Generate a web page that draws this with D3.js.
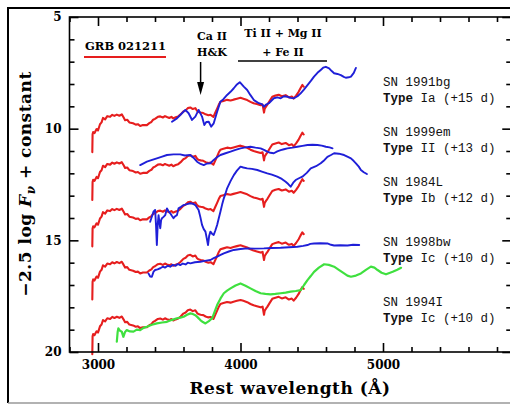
<!DOCTYPE html>
<html>
<head>
<meta charset="utf-8">
<script src="https://cdn.jsdelivr.net/npm/d3@7"></script>
<style>
  body { margin: 0; background: #fff; }
  svg { display: block; }
  .serif { font-family: "DejaVu Serif", "Liberation Serif", serif; font-weight: bold; }
  .mono { font-family: "Liberation Mono", "DejaVu Sans Mono", monospace; }
</style>
</head>
<body>
<svg id="chart" width="510" height="404"></svg>
<script>
// ---- data ----------------------------------------------------------------
// Tick values
const xMajorTicks = [3000, 4000, 5000];
const yMajorTicks = [5, 10, 15, 20];

// GRB 021211 rest-frame spectrum, [wavelength (Å), -2.5 log Fν] (top copy)
const grbSpectrum = [
  [2960, 11.05], [2962, 10.25], [2966, 10.15], [2975, 10.2], [2990, 10.02], [3000, 10.08],
  [3014, 9.8], [3025, 9.72], [3035, 9.52], [3050, 9.58], [3065, 9.44], [3085, 9.47],
  [3100, 9.38], [3115, 9.43], [3132, 9.37], [3150, 9.42], [3167, 9.36], [3180, 9.5],
  [3190, 9.62], [3205, 9.6], [3220, 9.72], [3246, 9.76], [3265, 9.82], [3280, 9.8],
  [3296, 9.88], [3315, 9.84], [3343, 9.84], [3360, 9.75], [3375, 9.7], [3387, 9.6],
  [3400, 9.56], [3420, 9.47], [3437, 9.45], [3455, 9.5], [3470, 9.44], [3484, 9.48],
  [3500, 9.52], [3515, 9.47], [3528, 9.54], [3545, 9.49], [3563, 9.45], [3580, 9.36],
  [3599, 9.23], [3615, 9.18], [3630, 9.08], [3648, 9.05], [3665, 9.12], [3683, 9.08],
  [3695, 9.2], [3704, 9.25], [3720, 9.28], [3739, 9.3], [3755, 9.36], [3775, 9.4],
  [3790, 9.38], [3810, 9.47], [3822, 9.3], [3836, 9.1], [3848, 8.92], [3859, 8.8],
  [3880, 8.76], [3906, 8.71], [3930, 8.74], [3951, 8.7], [3975, 8.66], [4000, 8.62],
  [4020, 8.66], [4047, 8.72], [4070, 8.8], [4092, 8.86], [4115, 8.9], [4141, 8.95],
  [4155, 8.92], [4165, 9.28], [4170, 9.1], [4180, 9.0], [4188, 8.93], [4205, 8.75],
  [4223, 8.57], [4245, 8.52], [4268, 8.48], [4290, 8.55], [4317, 8.5], [4340, 8.6],
  [4360, 8.56], [4373, 8.65], [4390, 8.52], [4408, 8.35], [4420, 8.2], [4434, 8.04],
  [4440, 8.1], [4444, 8.12]
];

// Vertical constant added to the GRB spectrum for each comparison
const grbOffsets = [0, 2.14, 4.22, 6.6, 9.05];

// Comparison supernovae
const snNames = ["SN 1991bg", "SN 1999em", "SN 1984L", "SN 1998bw", "SN 1994I"];
const snTypes = ["Ia (+15 d)", "II (+13 d)", "Ib (+12 d)", "Ic (+10 d)", "Ic (+10 d)"];

const sn1991bg = [
  [3519, 9.69], [3554, 9.54], [3589, 9.31], [3613, 9.16], [3636, 9.31], [3660, 9.61],
  [3683, 9.46], [3706, 9.16], [3730, 9.46], [3746, 9.84], [3760, 9.7], [3777, 9.69],
  [3794, 9.91], [3812, 9.76], [3836, 9.24], [3859, 8.79], [3880, 8.68], [3906, 8.49],
  [3930, 8.35], [3953, 8.19], [3975, 8.02], [3995, 7.92], [4023, 8.12], [4047, 8.27],
  [4070, 8.5], [4094, 8.72], [4129, 8.86], [4150, 8.9], [4164, 9.02], [4180, 8.92],
  [4199, 8.86], [4234, 8.64], [4260, 8.6], [4282, 8.64], [4305, 8.55], [4329, 8.57],
  [4350, 8.62], [4375, 8.64], [4400, 8.55], [4422, 8.42], [4445, 8.25], [4470, 8.05],
  [4495, 7.85], [4516, 7.67], [4540, 7.5], [4563, 7.37], [4580, 7.27], [4599, 7.23],
  [4622, 7.3], [4640, 7.42], [4657, 7.52], [4680, 7.55], [4704, 7.6], [4725, 7.68],
  [4739, 7.72], [4760, 7.7], [4775, 7.67], [4795, 7.5], [4810, 7.28]
];

const sn1999em = [
  [3296, 11.63], [3320, 11.55], [3343, 11.48], [3380, 11.4], [3413, 11.33], [3450, 11.25],
  [3484, 11.18], [3530, 11.15], [3577, 11.15], [3610, 11.2], [3648, 11.18], [3670, 11.3],
  [3695, 11.48], [3720, 11.58], [3742, 11.63], [3765, 11.56], [3789, 11.55], [3812, 11.4],
  [3835, 11.28], [3859, 11.18], [3895, 11.1], [3930, 11.03], [3965, 10.95], [4000, 10.88],
  [4035, 10.84], [4070, 10.81], [4105, 10.85], [4141, 10.88], [4165, 10.95], [4188, 11.03],
  [4210, 11.08], [4234, 11.1], [4258, 11.02], [4282, 10.96], [4305, 10.92], [4329, 10.88],
  [4365, 10.85], [4399, 10.81], [4435, 10.77], [4470, 10.73], [4505, 10.72], [4540, 10.73],
  [4570, 10.76], [4599, 10.81], [4625, 10.84], [4646, 10.88]
];

const sn1984L = [
  [3366, 14.17], [3380, 13.9], [3389, 13.72], [3401, 13.64], [3407, 14.3], [3413, 15.21],
  [3419, 14.3], [3425, 13.87], [3431, 14.2], [3437, 14.46], [3443, 14.1], [3449, 14.01],
  [3460, 13.95], [3472, 13.87], [3484, 13.57], [3495, 13.7], [3507, 13.79], [3518, 13.9],
  [3530, 14.01], [3542, 13.92], [3554, 13.87], [3565, 13.57], [3583, 13.5], [3601, 13.42],
  [3625, 13.38], [3648, 13.34], [3665, 13.36], [3683, 13.42], [3706, 13.64], [3718, 13.95],
  [3730, 14.31], [3742, 14.5], [3754, 14.61], [3763, 14.9], [3772, 15.21], [3780, 14.8],
  [3789, 14.61], [3800, 14.7], [3812, 14.76], [3824, 14.55], [3836, 14.31], [3848, 14.0],
  [3859, 13.72], [3871, 13.4], [3883, 13.12], [3895, 12.9], [3906, 12.67], [3930, 12.35],
  [3953, 12.08], [3975, 11.88], [4000, 11.7], [4020, 11.74], [4047, 11.78], [4080, 11.8],
  [4118, 11.85], [4150, 11.92], [4188, 12.0], [4220, 12.06], [4258, 12.15], [4290, 12.25],
  [4317, 12.38], [4335, 12.48], [4352, 12.6], [4370, 12.42], [4387, 12.3], [4410, 12.22],
  [4434, 12.15], [4465, 11.98], [4493, 11.78], [4530, 11.68], [4563, 11.55], [4590, 11.4],
  [4610, 11.26], [4635, 11.18], [4657, 11.1], [4690, 11.12], [4727, 11.18], [4750, 11.25],
  [4775, 11.33], [4795, 11.45], [4810, 11.55], [4830, 11.7], [4845, 11.85], [4865, 11.95],
  [4887, 12.03]
];

const sn1998bw = [
  [3354, 16.48], [3366, 16.62], [3378, 16.63], [3390, 16.4], [3401, 16.33], [3418, 16.3],
  [3437, 16.25], [3455, 16.18], [3470, 16.22], [3490, 16.14], [3507, 16.18], [3525, 16.1],
  [3545, 16.14], [3560, 16.06], [3577, 16.11], [3595, 16.04], [3615, 16.08], [3630, 16.0],
  [3648, 16.03], [3680, 15.98], [3718, 15.96], [3750, 15.92], [3789, 15.88], [3812, 15.8],
  [3836, 15.73], [3860, 15.65], [3883, 15.58], [3918, 15.5], [3953, 15.43], [4000, 15.39],
  [4047, 15.36], [4100, 15.37], [4164, 15.36], [4220, 15.34], [4282, 15.33], [4340, 15.31],
  [4399, 15.29], [4440, 15.25], [4470, 15.21], [4490, 15.16], [4516, 15.14], [4560, 15.13],
  [4610, 15.14], [4635, 15.2], [4657, 15.23], [4700, 15.22], [4751, 15.23], [4790, 15.2],
  [4833, 15.21]
];

const sn1994I = [
  [3132, 19.54], [3138, 19.1], [3143, 18.94], [3155, 19.05], [3167, 19.09], [3172, 19.2],
  [3178, 19.32], [3190, 19.1], [3202, 19.02], [3225, 19.08], [3249, 19.09], [3272, 19.0],
  [3296, 19.02], [3320, 18.92], [3343, 18.87], [3378, 18.78], [3413, 18.72], [3450, 18.68],
  [3484, 18.65], [3520, 18.56], [3554, 18.49], [3578, 18.46], [3601, 18.42], [3625, 18.33],
  [3648, 18.27], [3665, 18.3], [3683, 18.35], [3700, 18.45], [3718, 18.57], [3736, 18.66],
  [3754, 18.72], [3778, 18.62], [3801, 18.49], [3818, 18.2], [3836, 17.9], [3860, 17.6],
  [3883, 17.37], [3906, 17.25], [3930, 17.15], [3965, 17.02], [4000, 16.93], [4035, 17.03],
  [4070, 17.15], [4105, 17.27], [4141, 17.37], [4175, 17.4], [4211, 17.42], [4245, 17.4],
  [4282, 17.37], [4317, 17.34], [4352, 17.3], [4388, 17.27], [4423, 17.23], [4446, 17.0],
  [4470, 16.78], [4493, 16.6], [4516, 16.41], [4550, 16.22], [4587, 16.07], [4620, 16.1],
  [4657, 16.18], [4690, 16.32], [4727, 16.48], [4750, 16.58], [4775, 16.63], [4810, 16.58],
  [4845, 16.48], [4880, 16.32], [4915, 16.18], [4940, 16.22], [4962, 16.33], [4990, 16.45],
  [5021, 16.52], [5045, 16.46], [5068, 16.41], [5100, 16.32], [5127, 16.23]
];

const snSpectra = [sn1991bg, sn1999em, sn1984L, sn1998bw, sn1994I];
const snColors = ["#1f1fd8", "#1f1fd8", "#1f1fd8", "#1f1fd8", "#3fe03f"];

// ---- layout --------------------------------------------------------------
const svg = d3.select("#chart");
const plot = { left: 69.5, right: 511.25, top: 17, bottom: 352 };

const x = d3.scaleLinear().domain([2800, 5900]).range([plot.left, plot.right]);
const y = d3.scaleLinear().domain([5, 20]).range([plot.top, plot.bottom]);

// outer frame: dark top and left edges, light bottom edge
svg.append("path").attr("d", "M8,403 L8,8 L512,8")
  .attr("fill", "none").attr("stroke", "#000").attr("stroke-width", 2);
svg.append("line").attr("x1", 8).attr("x2", 510).attr("y1", 403).attr("y2", 403)
  .attr("stroke", "#999").attr("stroke-width", 1.5);

// spectra: GRB copies first, comparison spectra over them
const line = d3.line().x(d => x(d[0])).y(d => y(d[1]));
const curves = svg.append("g").attr("fill", "none")
  .attr("stroke-linejoin", "round").attr("stroke-linecap", "round");

grbOffsets.forEach(off => {
  curves.append("path").attr("d", line(grbSpectrum.map(d => [d[0], d[1] + off])))
    .attr("stroke", "#e61e1e").attr("stroke-width", 2.1);
});
snSpectra.forEach((spec, i) => {
  curves.append("path").attr("d", line(spec))
    .attr("stroke", snColors[i]).attr("stroke-width", i === 4 ? 2.2 : 1.9);
});

// axes: major + minor ticks on all four sides
const minorX = d3.range(2800, 5901, 200).filter(v => !xMajorTicks.includes(v));
const minorY = d3.range(5, 21, 1).filter(v => !yMajorTicks.includes(v));

function styleAxis(g) {
  g.select(".domain").remove();
  g.selectAll(".tick line").attr("stroke", "#000").attr("stroke-width", 1.6);
  g.selectAll(".tick text").attr("class", "serif").attr("fill", "#000")
    .style("font-size", "12px");
}

svg.append("g").attr("transform", `translate(0,${plot.bottom})`)
  .call(d3.axisBottom(x).tickValues(xMajorTicks).tickSizeInner(-9).tickSizeOuter(0)
    .tickPadding(8).tickFormat(d3.format("d"))).call(styleAxis);
svg.append("g").attr("transform", `translate(0,${plot.bottom})`)
  .call(d3.axisBottom(x).tickValues(minorX).tickSizeInner(-5).tickSizeOuter(0)
    .tickFormat("")).call(styleAxis);
svg.append("g").attr("transform", `translate(0,${plot.top})`)
  .call(d3.axisTop(x).tickValues(xMajorTicks).tickSizeInner(-9).tickSizeOuter(0)
    .tickFormat("")).call(styleAxis);
svg.append("g").attr("transform", `translate(0,${plot.top})`)
  .call(d3.axisTop(x).tickValues(minorX).tickSizeInner(-5).tickSizeOuter(0)
    .tickFormat("")).call(styleAxis);

svg.append("g").attr("transform", `translate(${plot.left},0)`)
  .call(d3.axisLeft(y).tickValues(yMajorTicks).tickSizeInner(-9).tickSizeOuter(0)
    .tickPadding(8)).call(styleAxis);
svg.append("g").attr("transform", `translate(${plot.left},0)`)
  .call(d3.axisLeft(y).tickValues(minorY).tickSizeInner(-5).tickSizeOuter(0)
    .tickFormat("")).call(styleAxis);
svg.append("g").attr("transform", `translate(${plot.right},0)`)
  .call(d3.axisRight(y).tickValues(yMajorTicks).tickSizeInner(-9).tickSizeOuter(0)
    .tickFormat("")).call(styleAxis);
svg.append("g").attr("transform", `translate(${plot.right},0)`)
  .call(d3.axisRight(y).tickValues(minorY).tickSizeInner(-5).tickSizeOuter(0)
    .tickFormat("")).call(styleAxis);

// plot box
svg.append("rect").attr("x", plot.left).attr("y", plot.top)
  .attr("width", plot.right - plot.left).attr("height", plot.bottom - plot.top)
  .attr("fill", "none").attr("stroke", "#000").attr("stroke-width", 1.6);

// axis titles
svg.append("text").attr("class", "serif").attr("x", 290).attr("y", 394)
  .attr("text-anchor", "middle").style("font-size", "17px").style("letter-spacing", "0.5px")
  .text("Rest wavelength (Å)");

const yTitle = svg.append("text").attr("class", "serif")
  .attr("transform", "translate(31,184) rotate(-90)")
  .attr("text-anchor", "middle").style("font-size", "17px").style("letter-spacing", "0.5px");
yTitle.append("tspan").text("−2.5 log ");
yTitle.append("tspan").style("font-style", "italic").text("F");
yTitle.append("tspan").attr("dy", 4).style("font-size", "12px").style("font-style", "italic").text("ν");
yTitle.append("tspan").attr("dy", -4).text(" + constant");

// supernova labels
const labelTop = [85.5, 135.5, 185.5, 245.5, 305.5];
snNames.forEach((name, i) => {
  const t = svg.append("text").attr("class", "mono").attr("x", 383)
    .attr("y", labelTop[i]).style("font-size", "12.5px").attr("fill", "#111");
  t.append("tspan").text(name);
  const t2 = svg.append("text").attr("class", "mono").attr("x", 383)
    .attr("y", labelTop[i] + 16).style("font-size", "12.5px").attr("fill", "#111");
  t2.append("tspan").style("font-weight", "bold").text("Type");
  t2.append("tspan").text(" " + snTypes[i]);
});

// GRB legend
svg.append("text").attr("class", "serif").attr("x", 85).attr("y", 50)
  .style("font-size", "11.5px").text("GRB 021211");
svg.append("line").attr("x1", 84).attr("x2", 166).attr("y1", 57).attr("y2", 57)
  .attr("stroke", "#e61e1e").attr("stroke-width", 2);

// line identifications
svg.append("text").attr("class", "serif").attr("x", 212).attr("y", 40)
  .attr("text-anchor", "middle").style("font-size", "11px").text("Ca II");
svg.append("text").attr("class", "serif").attr("x", 212).attr("y", 56)
  .attr("text-anchor", "middle").style("font-size", "11px").text("H&K");
svg.append("line").attr("x1", x(3720)).attr("x2", x(3720)).attr("y1", 62).attr("y2", 86)
  .attr("stroke", "#000").attr("stroke-width", 1.5);
svg.append("path")
  .attr("d", `M${x(3720) - 3.5},82 L${x(3720) + 3.5},82 L${x(3720)},95 Z`)
  .attr("fill", "#000");

svg.append("text").attr("class", "serif").attr("x", 283).attr("y", 37)
  .attr("text-anchor", "middle").style("font-size", "11px").text("Ti II + Mg II");
svg.append("text").attr("class", "serif").attr("x", 283).attr("y", 56)
  .attr("text-anchor", "middle").style("font-size", "11px").text("+ Fe II");
svg.append("line").attr("x1", 238).attr("x2", 327).attr("y1", 61).attr("y2", 61)
  .attr("stroke", "#000").attr("stroke-width", 1.5);
</script>
</body>
</html>
